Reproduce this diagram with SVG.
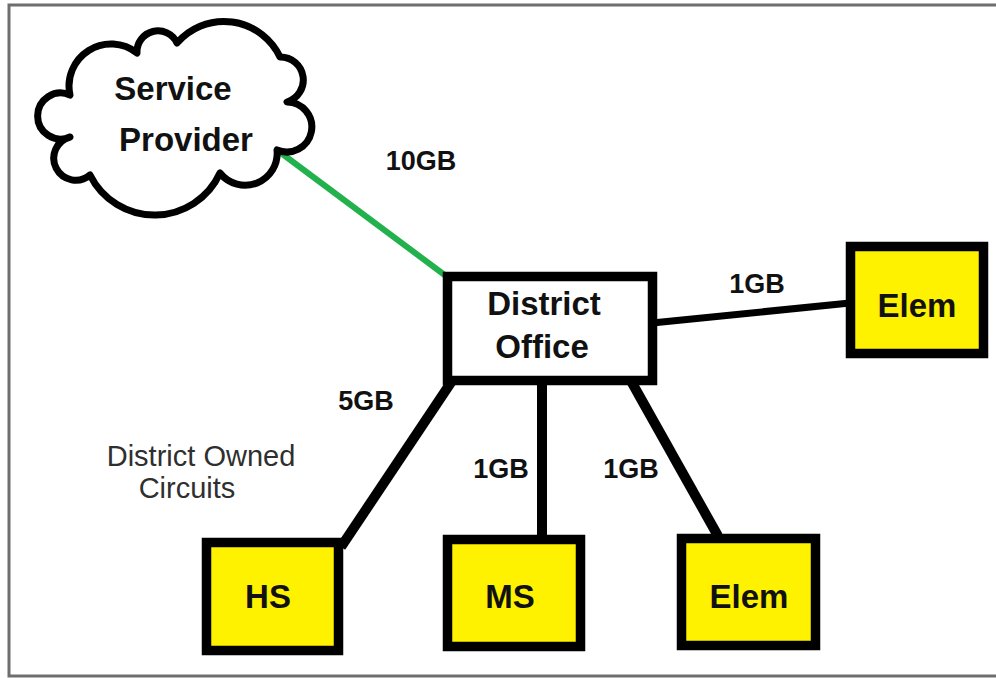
<svg xmlns="http://www.w3.org/2000/svg" width="996" height="678" viewBox="0 0 996 678">
<style>
.frame{fill:#fff;stroke:#6e6e6e;stroke-width:3}
.box{stroke:#000;stroke-width:9.5}
.site{fill:#fff200}
.office{fill:#fff}
.cloud{fill:#fff;stroke:#000;stroke-width:7;stroke-linejoin:round}
.lbl{font-family:"Liberation Sans",Arial,sans-serif;font-weight:bold;fill:#111;text-anchor:middle}
.big{font-size:33px}
.gb{font-size:27px}
.note{font-family:"Liberation Sans",Arial,sans-serif;font-size:29px;fill:#2f2f2f;text-anchor:middle}
.link{stroke:#000;stroke-width:10;stroke-linecap:butt}
.thin{stroke-width:7}
.green{stroke:#22b14c;stroke-width:6}
</style>
<rect class="frame" x="9" y="5" width="995" height="671"/>
<g id="connectors">
<line class="link green" x1="277" y1="150" x2="446" y2="276"/>
<line class="link thin" x1="652" y1="323" x2="850" y2="303"/>
<line class="link" x1="452" y1="381" x2="341" y2="547"/>
<line class="link" x1="542" y1="381" x2="542" y2="536"/>
<line class="link" x1="631" y1="381" x2="718" y2="536"/>
</g>
<g id="labels">
<text class="lbl gb" x="421" y="170">10GB</text>
<text class="lbl gb" x="757" y="293">1GB</text>
<text class="lbl gb" x="366" y="410">5GB</text>
<text class="lbl gb" x="501" y="478">1GB</text>
<text class="lbl gb" x="631" y="478">1GB</text>
<text class="note" x="201" y="466">District Owned</text>
<text class="note" x="187" y="498">Circuits</text>
</g>
<g id="service-provider">
<path class="cloud" d="M70,95 A42,42 0 0 1 137,53 A21,21 0 0 1 177,43 A62,62 0 0 1 280,57 A23,23 0 0 1 287,102 A25,25 0 1 1 277,150 A32,32 0 0 1 220,173 A72,72 0 0 1 90,175 A22,22 0 1 1 70,137 A23,23 0 1 1 70,95 Z"/>
<text class="lbl big" x="173" y="100">Service</text>
<text class="lbl big" x="186" y="151">Provider</text>
</g>
<g id="district-office">
<rect class="box office" x="447.5" y="276.5" width="205" height="104"/>
<text class="lbl big" x="544" y="315">District</text>
<text class="lbl big" x="542" y="358">Office</text>
</g>
<g id="elem-right">
<rect class="box site" x="850.5" y="246.5" width="133" height="107"/>
<text class="lbl big" x="917" y="317">Elem</text>
</g>
<g id="hs">
<rect class="box site" x="206.5" y="542.5" width="132" height="108"/>
<text class="lbl big" x="268" y="608">HS</text>
</g>
<g id="ms">
<rect class="box site" x="447.5" y="539.5" width="133" height="107"/>
<text class="lbl big" x="510" y="608">MS</text>
</g>
<g id="elem-bottom">
<rect class="box site" x="681.5" y="538.5" width="134" height="107"/>
<text class="lbl big" x="749" y="608">Elem</text>
</g>
</svg>
